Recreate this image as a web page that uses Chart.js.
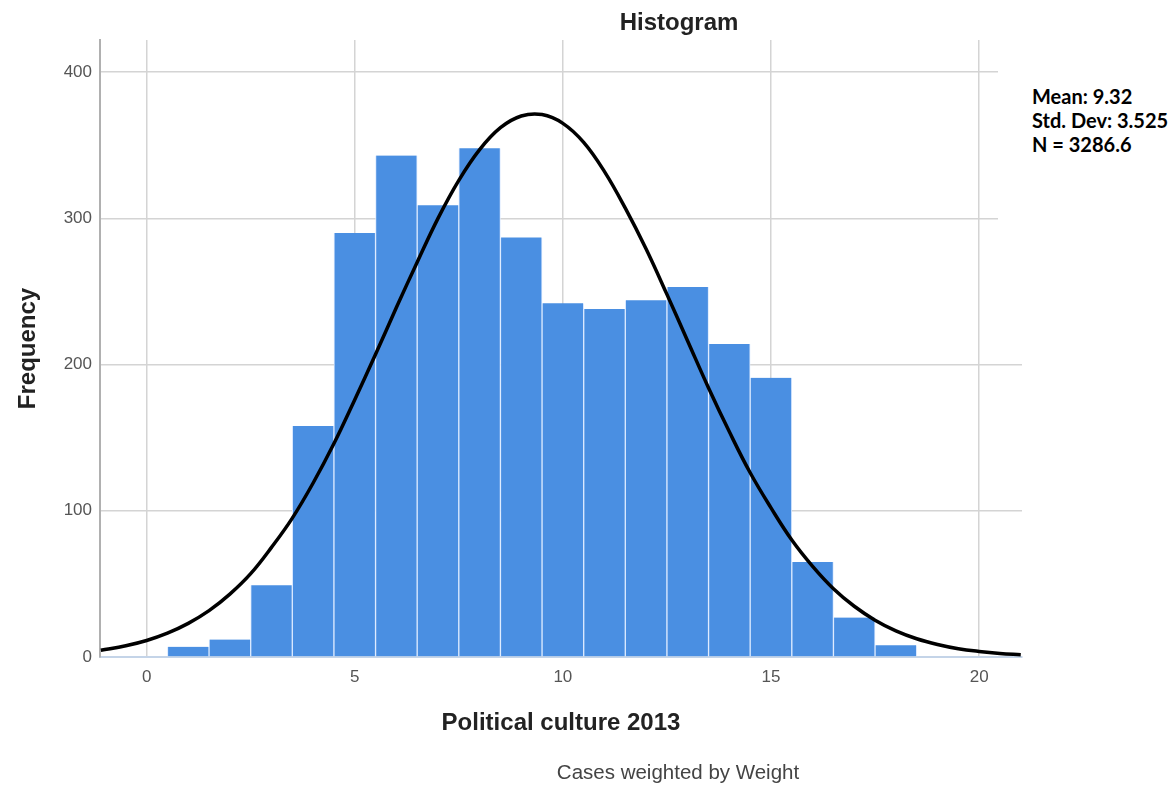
<!DOCTYPE html>
<html>
<head>
<meta charset="utf-8">
<title>Histogram</title>
<script src="https://cdn.jsdelivr.net/npm/chart.js@4.4.1/dist/chart.umd.min.js"></script>
<style>
  body { margin: 0; background: #fff; }
  #wrap { position: relative; width: 1172px; height: 788px; }
  .txt { position: absolute; font-family: "Liberation Sans", Arial, sans-serif; white-space: nowrap; }
  #title { left: 679px; top: 8px; transform: translateX(-50%); font-size: 24px; font-weight: bold; color: #222; }
  #note { left: 678px; top: 760px; transform: translateX(-50%); font-size: 20.5px; color: #444; }
  #stats { left: 998px; top: 70px; width: 174px; height: 230px; background: #fff;
           font-family: Lato, "Open Sans", sans-serif; font-weight: bold; font-size: 20px;
           line-height: 24px; color: #000; padding-left: 34px; padding-top: 14px; box-sizing: border-box; }
</style>
</head>
<body>
<div id="wrap">
  <canvas id="histChart"></canvas>
  <div class="txt" id="title">Histogram</div>
  <div class="txt" id="stats">Mean: 9.32<br>Std. Dev: 3.525<br>N = 3286.6</div>
  <div class="txt" id="note">Cases weighted by Weight</div>
</div>
<script>
// bin centres (bins are 1 unit wide)
const binCenters = [1, 2, 3, 4, 5, 6, 7, 8, 9, 10, 11, 12, 13, 14, 15, 16, 17, 18];
// frequencies
const frequencies = [7, 12, 49, 158, 290, 343, 309, 348, 287, 242, 238, 244, 253, 214, 191, 65, 27, 8];

// normal curve, every half unit
const curveX = [-1.1, -0.5, 0, 0.5, 1, 1.5, 2, 2.5, 3, 3.5, 4, 4.5, 5, 5.5, 6, 6.5, 7, 7.5, 8, 8.5, 9, 9.5,
  10, 10.5, 11, 11.5, 12, 12.5, 13, 13.5, 14, 14.5, 15, 15.5, 16, 16.5, 17, 17.5, 18, 18.5, 19, 19.5, 20, 20.5, 21];
const curveY = [4.6, 7.7, 11.3, 16.3, 23, 31.7, 43, 57, 75, 95, 119, 146, 176, 207, 239, 270, 300, 326, 347, 362, 370, 371,
  365, 352, 332, 307, 279, 248, 216, 184, 154, 126, 102, 80, 62, 46.7, 34.7, 25.2, 17.9, 12.5, 8.6, 5.7, 3.8, 2.4, 1.5];

const xTicks = [0, 5, 10, 15, 20];
const yTicks = [0, 100, 200, 300, 400];

const barPoints = binCenters.map(function(x, i) { return { x: x, y: frequencies[i] }; });
const curvePoints = curveX.map(function(x, i) { return { x: x, y: curveY[i] }; });

const gridColor = '#d4d4d4';

new Chart(document.getElementById('histChart').getContext('2d'), {
  type: 'bar',
  data: {
    datasets: [
      {
        type: 'line',
        label: 'Normal',
        data: curvePoints,
        borderColor: '#000',
        borderWidth: 3.5,
        pointRadius: 0,
        fill: false,
        tension: 0.4,
        order: 0
      },
      {
        label: 'Frequency',
        data: barPoints,
        backgroundColor: '#4a8fe2',
        borderColor: '#dceaff',
        borderWidth: { left: 1, right: 1, top: 0, bottom: 0 },
        borderSkipped: false,
        barPercentage: 1,
        categoryPercentage: 1,
        order: 1
      }
    ]
  },
  options: {
    responsive: true,
    maintainAspectRatio: false,
    animation: false,
    layout: { padding: { left: 0, top: 40, right: 150, bottom: 0 } },
    plugins: {
      legend: { display: false },
      tooltip: { enabled: false }
    },
    scales: {
      x: {
        type: 'linear',
        min: -1.12,
        max: 21.03,
        offset: false,
        afterFit: function(scale) { scale.height = 131; },
        afterBuildTicks: function(scale) { scale.ticks = xTicks.map(function(v) { return { value: v }; }); },
        ticks: { color: '#555', font: { family: 'Liberation Sans', size: 17 }, padding: 10, maxRotation: 0 },
        grid: { color: gridColor, lineWidth: 1.5, drawTicks: false, offset: false },
        border: { color: '#c4d4e8', width: 2 },
        title: {
          display: true,
          text: 'Political culture 2013',
          color: '#222',
          font: { family: 'Liberation Sans', size: 24, weight: 'bold' },
          padding: { top: 0, bottom: 50 }
        }
      },
      y: {
        min: 0,
        max: 422,
        afterFit: function(scale) { scale.width = 100; },
        afterBuildTicks: function(scale) { scale.ticks = yTicks.map(function(v) { return { value: v }; }); },
        ticks: { color: '#555', font: { family: 'Liberation Sans', size: 17 }, padding: 8 },
        grid: { color: gridColor, lineWidth: 1.5, drawTicks: false },
        border: { color: '#b0b0b0', width: 2 },
        title: {
          display: true,
          text: 'Frequency',
          color: '#222',
          font: { family: 'Liberation Sans', size: 24, weight: 'bold' },
          padding: { top: 14, bottom: 0 }
        }
      }
    }
  }
});
</script>
</body>
</html>
